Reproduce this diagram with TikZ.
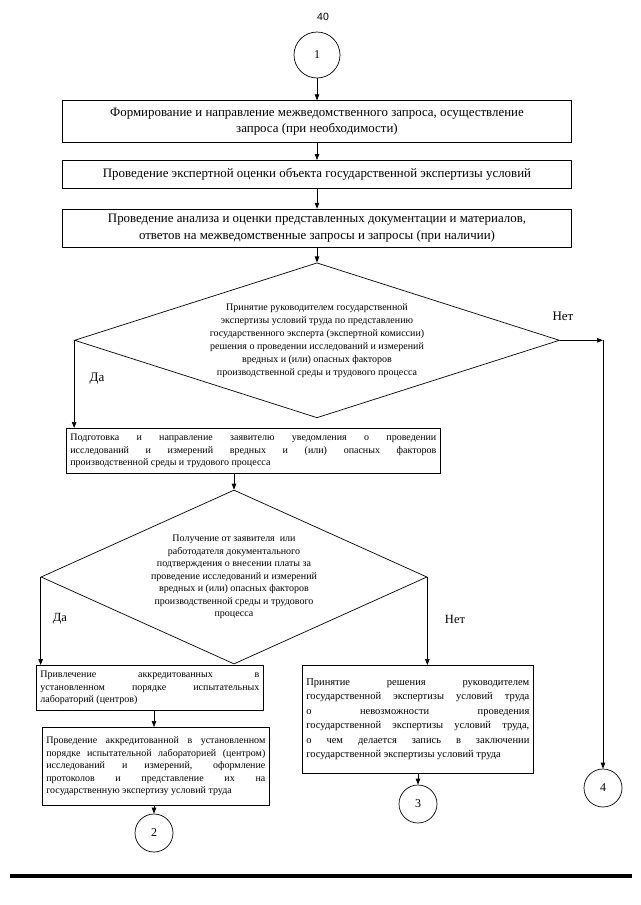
\documentclass[tikz,border=0pt]{standalone}
\usepackage{fontspec}
\setmainfont{Liberation Serif}
\newfontfamily\pagefont{Liberation Sans}
\usetikzlibrary{arrows.meta,positioning,shapes.geometric}
\hyphenpenalty=10000
\tikzset{
    stepbox/.style={draw, line width=0.7pt, align=center, inner sep=2pt,
        minimum width=509pt, font=\fontsize{12.9}{16.5}\selectfont},
    notebox/.style={draw, line width=0.7pt, align=justify, anchor=north west,
        inner xsep=4pt, inner ysep=3pt, font=\fontsize{10}{12.5}\selectfont},
    choice/.style={draw, diamond, line width=0.7pt, inner sep=0pt},
    choicetext/.style={align=center, font=\fontsize{10}{13}\selectfont},
    jumpnode/.style={draw, circle, line width=0.7pt, minimum size=38pt,
        inner sep=0pt, font=\fontsize{12}{14}\selectfont},
    answer/.style={font=\fontsize{13}{15}\selectfont},
    flowarrow/.style={-{Triangle[length=6pt,width=4.5pt]}, line width=0.7pt}
}
\begin{document}
\begin{tikzpicture}[x=1pt, y=-1pt]
\useasboundingbox (0,0) rectangle (640,905);
\node[font=\pagefont\fontsize{10.5}{12}\selectfont] (pagenum) at (323,17) {40};
% main chain
\node[jumpnode, minimum size=46pt] (c1) at (317,55) {1};
\node[stepbox, minimum height=42pt, below=22pt of c1] (b1)
    {Формирование и направление межведомственного запроса, осуществление\\
     запроса (при необходимости)};
\node[stepbox, minimum height=28pt, below=17pt of b1] (b2)
    {Проведение экспертной оценки объекта государственной экспертизы условий};
\node[stepbox, minimum height=38pt, below=20pt of b2] (b3)
    {Проведение анализа и оценки представленных документации и материалов,\\
     ответов на межведомственные запросы и запросы (при наличии)};
\node[choice, minimum width=485pt, minimum height=155pt, below=15pt of b3] (q1) {};
\node[choicetext] (q1txt) at (q1.center)
    {Принятие руководителем государственной\\
     экспертизы условий труда по представлению\\
     государственного эксперта (экспертной комиссии)\\
     решения о проведении исследований и измерений\\
     вредных и (или) опасных факторов\\
     производственной среды и трудового процесса};
\node[answer] (no1) at (563,316) {Нет};
\node[answer] (yes1) at (97,379) {Да};
\node[notebox, text width=366pt, minimum height=45pt] (b4) at (66,428)
    {Подготовка и направление заявителю уведомления о проведении\linebreak
     исследований и измерений вредных и (или) опасных факторов\linebreak
     производственной среды и трудового процесса};
\node[choice, minimum width=386pt, minimum height=174pt] (q2) at (234,577) {};
\node[choicetext, font=\fontsize{10}{12.5}\selectfont] (q2txt) at (q2.center)
    {Получение от заявителя \ или\\
     работодателя документального\\
     подтверждения о внесении платы за\\
     проведение исследований и измерений\\
     вредных и (или) опасных факторов\\
     производственной среды и трудового\\
     процесса};
\node[answer, font=\fontsize{12.5}{15}\selectfont] (yes2) at (60,619) {Да};
\node[answer, font=\fontsize{12.5}{15}\selectfont] (no2) at (455,619) {Нет};
% lower boxes
\node[notebox, text width=219pt, minimum height=45pt] (b5) at (36,665)
    {Привлечение аккредитованных в\linebreak
     установленном порядке испытательных\linebreak
     лабораторий (центров)};
\node[notebox, text width=219pt, minimum height=78pt] (b6) at (42,727)
    {Проведение аккредитованной в установленном\linebreak
     порядке испытательной лабораторией (центром)\linebreak
     исследований и измерений, оформление\linebreak
     протоколов и представление их на\linebreak
     государственную экспертизу условий труда};
\node[notebox, text width=223pt, minimum height=108pt,
    font=\fontsize{10.5}{14.5}\selectfont] (b7) at (302,665)
    {Принятие решения руководителем\linebreak
     государственной экспертизы условий труда\linebreak
     о невозможности проведения\linebreak
     государственной экспертизы условий труда,\linebreak
     о чем делается запись в заключении\linebreak
     государственной экспертизы условий труда\par\vspace{14pt}};
\node[jumpnode] (c2) at (154,833) {2};
\node[jumpnode] (c3) at (418,804) {3};
\node[jumpnode] (c4) at (603,788) {4};
\coordinate (turn1) at (q1.east -| c4.north);
% connectors
\draw[flowarrow] (c1) -- (b1);
\draw[flowarrow] (b1) -- (b2);
\draw[flowarrow] (b2) -- (b3);
\draw[flowarrow] (b3) -- (q1);
\draw[flowarrow] (q1.east) -- (turn1);
\draw[flowarrow] (turn1) -- (c4);
\draw[flowarrow] (q1.west) -- (q1.west |- b4.north);
\draw[flowarrow] (q2.north |- b4.south) -- (q2.north);
\draw[flowarrow] (q2.west) -- (q2.west |- b5.north);
\draw[flowarrow] (q2.east) -- (q2.east |- b7.north);
\draw[flowarrow] (b5.south -| c2.north) -- (b6.north -| c2.north);
\draw[flowarrow] (b6.south -| c2.north) -- (c2);
\draw[flowarrow] (b7.south -| c3.north) -- (c3);
% page rule
\draw[line width=4pt] (10,876) -- (632,876);
\end{tikzpicture}
\end{document}
